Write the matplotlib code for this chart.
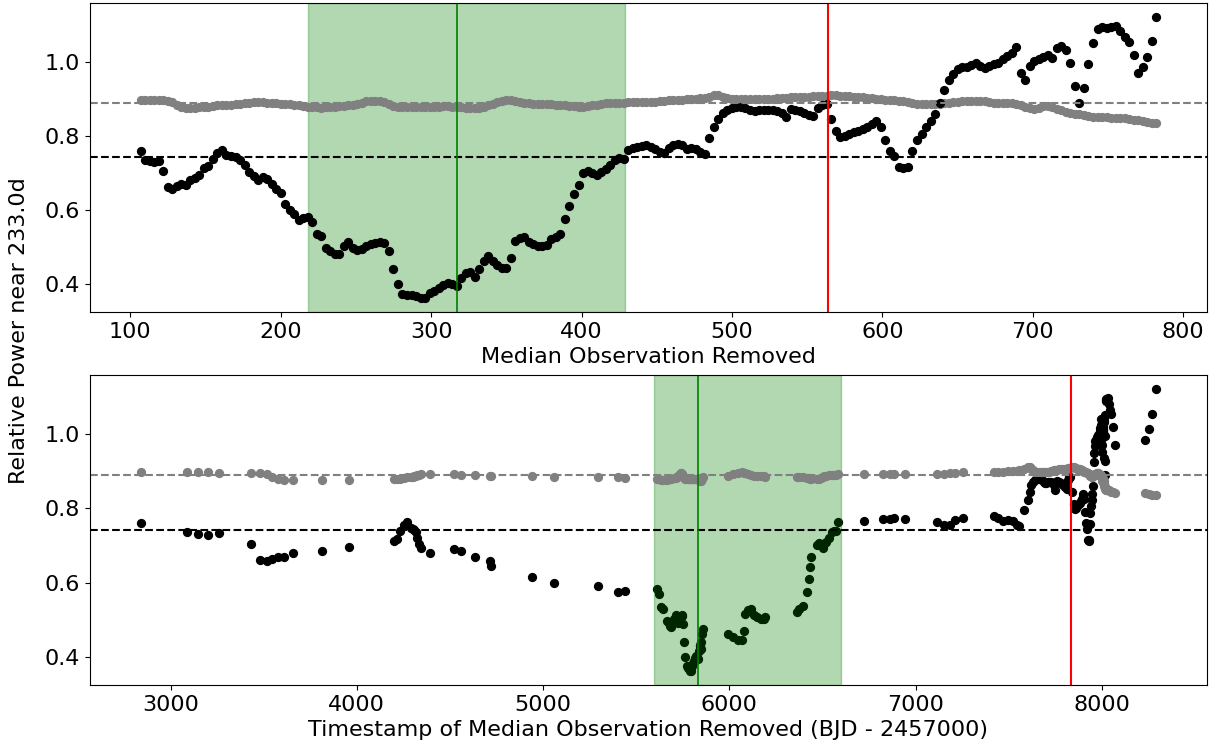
import matplotlib
matplotlib.use("Agg")
import matplotlib.pyplot as plt

plt.rcParams.update({"font.size": 16})

# median observation index removed (every third one shown)
obs_index = [
    107, 110, 113, 116, 119, 122, 125, 128, 131, 134, 137, 140, 143, 146, 149, 152, 155, 158, 161, 164,
    167, 170, 173, 176, 179, 182, 185, 188, 191, 194, 197, 200, 203, 206, 209, 212, 215, 218, 221, 224,
    227, 230, 233, 236, 239, 242, 245, 248, 251, 254, 257, 260, 263, 266, 269, 272, 275, 278, 281, 284,
    287, 290, 293, 296, 299, 302, 305, 308, 311, 314, 317, 320, 323, 326, 329, 332, 335, 338, 341, 344,
    347, 350, 353, 356, 359, 362, 365, 368, 371, 374, 377, 380, 383, 386, 389, 392, 395, 398, 401, 404,
    407, 410, 413, 416, 419, 422, 425, 428, 431, 434, 437, 440, 443, 446, 449, 452, 455, 458, 461, 464,
    467, 470, 473, 476, 479, 482, 485, 488, 491, 494, 497, 500, 503, 506, 509, 512, 515, 518, 521, 524,
    527, 530, 533, 536, 539, 542, 545, 548, 551, 554, 557, 560, 563, 566, 569, 572, 575, 578, 581, 584,
    587, 590, 593, 596, 599, 602, 605, 608, 611, 614, 617, 620, 623, 626, 629, 632, 635, 638, 641, 644,
    647, 650, 653, 656, 659, 662, 665, 668, 671, 674, 677, 680, 683, 686, 689, 692, 695, 698, 701, 704,
    707, 710, 713, 716, 719, 722, 725, 728, 731, 734, 737, 740, 743, 746, 749, 752, 755, 758, 761, 764,
    767, 770, 773, 776, 779, 782,
]

# timestamp of that observation (BJD - 2457000)
obs_time = [
    2840, 3090, 3150, 3200, 3260, 3430, 3480, 3520, 3545, 3575, 3610, 3660, 3813, 3960, 4200, 4215, 4233, 4255, 4270, 4290,
    4300, 4308, 4315, 4325, 4335, 4345, 4394, 4519, 4560, 4636, 4717, 4722, 4940, 5056, 5295, 5400, 5440, 5611, 5620, 5632,
    5645, 5665, 5675, 5680, 5684, 5700, 5712, 5718, 5725, 5730, 5735, 5738, 5741, 5744, 5747, 5752, 5758, 5763, 5772, 5778,
    5783, 5787, 5790, 5793, 5800, 5805, 5810, 5815, 5820, 5826, 5833, 5836, 5840, 5843, 5846, 5850, 5853, 5857, 5995, 6020,
    6045, 6067, 6076, 6085, 6100, 6115, 6130, 6150, 6170, 6185, 6192, 6362, 6371, 6395, 6418, 6425, 6432, 6440, 6470, 6480,
    6490, 6500, 6510, 6520, 6535, 6550, 6560, 6570, 6585, 6725, 6825, 6860, 6882, 6940, 7112, 7150, 7185, 7210, 7256, 7419,
    7440, 7470, 7496, 7525, 7545, 7553, 7582, 7601, 7612, 7621, 7630, 7640, 7655, 7670, 7680, 7688, 7693, 7700, 7710, 7718,
    7726, 7735, 7745, 7750, 7760, 7770, 7780, 7790, 7800, 7810, 7818, 7825, 7831, 7840, 7848, 7856, 7862, 7868, 7874, 7880,
    7886, 7892, 7897, 7900, 7905, 7910, 7915, 7920, 7925, 7928, 7932, 7935, 7938, 7941, 7944, 7947, 7950, 7953, 7956, 7959,
    7962, 7965, 7968, 7971, 7974, 7977, 7980, 7982, 7984, 7986, 7988, 7990, 7992, 7994, 7996, 7998, 8000, 8002, 8004, 8005,
    8006, 8007, 8008, 8009, 8010, 8011, 8012, 8013, 8014, 8015, 8016, 8017, 8019, 8021, 8023, 8026, 8030, 8036, 8044, 8050,
    8058, 8068, 8232, 8250, 8268, 8291,
]

# relative power near 233.0d after removing the observation
power = [
    0.760, 0.735, 0.731, 0.729, 0.733, 0.705, 0.661, 0.657, 0.664, 0.670, 0.668, 0.680, 0.685, 0.695, 0.712, 0.718, 0.738, 0.755, 0.762, 0.747,
    0.745, 0.742, 0.736, 0.720, 0.703, 0.692, 0.680, 0.690, 0.684, 0.670, 0.657, 0.645, 0.615, 0.600, 0.590, 0.574, 0.578, 0.582, 0.568, 0.535,
    0.530, 0.497, 0.490, 0.482, 0.480, 0.503, 0.512, 0.498, 0.492, 0.493, 0.503, 0.507, 0.511, 0.513, 0.510, 0.488, 0.440, 0.399, 0.374, 0.371,
    0.369, 0.368, 0.362, 0.362, 0.376, 0.382, 0.389, 0.396, 0.403, 0.399, 0.394, 0.415, 0.430, 0.432, 0.420, 0.440, 0.462, 0.476, 0.462, 0.452,
    0.444, 0.444, 0.470, 0.515, 0.525, 0.528, 0.513, 0.508, 0.503, 0.503, 0.506, 0.521, 0.528, 0.536, 0.575, 0.610, 0.642, 0.668, 0.700, 0.706,
    0.700, 0.693, 0.703, 0.710, 0.721, 0.736, 0.740, 0.738, 0.762, 0.767, 0.770, 0.772, 0.774, 0.770, 0.764, 0.756, 0.755, 0.768, 0.775, 0.778,
    0.774, 0.765, 0.768, 0.765, 0.756, 0.752, 0.795, 0.823, 0.845, 0.862, 0.871, 0.876, 0.879, 0.878, 0.875, 0.870, 0.868, 0.869, 0.870, 0.871,
    0.870, 0.868, 0.862, 0.850, 0.873, 0.871, 0.867, 0.862, 0.857, 0.853, 0.876, 0.884, 0.885, 0.845, 0.812, 0.797, 0.800, 0.805, 0.811, 0.814,
    0.819, 0.825, 0.831, 0.839, 0.825, 0.790, 0.760, 0.745, 0.715, 0.712, 0.715, 0.758, 0.788, 0.806, 0.823, 0.839, 0.860, 0.890, 0.925, 0.950,
    0.968, 0.980, 0.985, 0.987, 0.992, 0.996, 0.990, 0.983, 0.990, 0.994, 0.996, 1.008, 1.017, 1.024, 1.040, 0.970, 0.951, 0.988, 1.002, 1.008,
    1.014, 1.019, 1.010, 1.036, 1.043, 1.032, 0.996, 0.935, 0.890, 0.928, 0.995, 1.050, 1.090, 1.095, 1.092, 1.094, 1.096, 1.082, 1.066, 1.053,
    1.019, 0.970, 0.985, 1.014, 1.055, 1.121,
]

# comparison power (grey)
power_ref = [
    0.897, 0.898, 0.897, 0.897, 0.896, 0.896, 0.895, 0.892, 0.884, 0.878, 0.875, 0.875, 0.876, 0.877, 0.878, 0.879, 0.880, 0.882, 0.883, 0.883,
    0.884, 0.886, 0.887, 0.889, 0.890, 0.891, 0.892, 0.892, 0.890, 0.889, 0.888, 0.887, 0.886, 0.885, 0.884, 0.883, 0.881, 0.879, 0.878, 0.877,
    0.876, 0.877, 0.878, 0.879, 0.880, 0.881, 0.882, 0.883, 0.886, 0.890, 0.893, 0.894, 0.894, 0.893, 0.892, 0.887, 0.881, 0.879, 0.879, 0.879,
    0.879, 0.879, 0.879, 0.879, 0.879, 0.879, 0.879, 0.880, 0.880, 0.879, 0.879, 0.878, 0.876, 0.874, 0.874, 0.876, 0.879, 0.883, 0.887, 0.891,
    0.895, 0.897, 0.896, 0.894, 0.892, 0.890, 0.888, 0.887, 0.886, 0.886, 0.885, 0.885, 0.884, 0.883, 0.882, 0.881, 0.880, 0.879, 0.879, 0.880,
    0.882, 0.884, 0.886, 0.888, 0.889, 0.889, 0.890, 0.890, 0.891, 0.891, 0.892, 0.892, 0.892, 0.892, 0.892, 0.893, 0.894, 0.896, 0.897, 0.898,
    0.898, 0.899, 0.900, 0.900, 0.901, 0.902, 0.906, 0.911, 0.911, 0.906, 0.902, 0.899, 0.899, 0.899, 0.899, 0.899, 0.899, 0.899, 0.899, 0.899,
    0.900, 0.901, 0.902, 0.903, 0.904, 0.905, 0.905, 0.906, 0.906, 0.907, 0.908, 0.908, 0.909, 0.910, 0.910, 0.909, 0.908, 0.907, 0.906, 0.905,
    0.904, 0.902, 0.901, 0.900, 0.899, 0.898, 0.897, 0.896, 0.895, 0.893, 0.891, 0.889, 0.887, 0.886, 0.885, 0.885, 0.886, 0.887, 0.889, 0.890,
    0.891, 0.892, 0.893, 0.894, 0.895, 0.895, 0.895, 0.893, 0.891, 0.890, 0.890, 0.890, 0.890, 0.889, 0.886, 0.882, 0.878, 0.874, 0.872, 0.876,
    0.880, 0.880, 0.877, 0.873, 0.869, 0.865, 0.862, 0.860, 0.858, 0.856, 0.854, 0.852, 0.851, 0.850, 0.850, 0.849, 0.849, 0.848, 0.847, 0.845,
    0.844, 0.842, 0.840, 0.838, 0.836, 0.835,
]

full_power = 0.742
full_ref = 0.889
window_index = (218, 429)
window_time = (5596, 6600)
min_index, min_time = 317, 5833
mark_index, mark_time = 564, 7834

dot = 32

fig = plt.figure(figsize=(12.14, 7.47), dpi=100)
ax1 = fig.add_axes([0.0741, 0.5823, 0.9201, 0.4137])
ax2 = fig.add_axes([0.0741, 0.083, 0.9201, 0.415])

# top: against observation index
ax1.axvspan(*window_index, color="green", alpha=0.3)
ax1.scatter(obs_index, power_ref, s=dot, color="gray")
ax1.scatter(obs_index, power, s=dot, color="black")
ax1.axhline(full_power, color="black", ls="--", lw=1.5)
ax1.axhline(full_ref, color="gray", ls="--", lw=1.5)
ax1.axvline(min_index, color="green", lw=1.2)
ax1.axvline(mark_index, color="red", lw=1.5)
ax1.set_xlabel("Median Observation Removed", labelpad=4)

# bottom: against timestamp
ax2.scatter(obs_time, power, s=dot, color="black")
ax2.axvspan(*window_time, color="green", alpha=0.3)
ax2.scatter(obs_time, power_ref, s=dot, color="gray")
ax2.axhline(full_power, color="black", ls="--", lw=1.5)
ax2.axhline(full_ref, color="gray", ls="--", lw=1.5)
ax2.axvline(min_time, color="green", lw=1.2)
ax2.axvline(mark_time, color="red", lw=1.5)
ax2.set_xlabel("Timestamp of Median Observation Removed (BJD - 2457000)", labelpad=4)

for ax in (ax1, ax2):
    ax.set_yticks([0.4, 0.6, 0.8, 1.0])

fig.text(0.016, 0.558, "Relative Power near 233.0d", rotation=90, ha="center", va="center")

fig.savefig("out.png", dpi=100)
